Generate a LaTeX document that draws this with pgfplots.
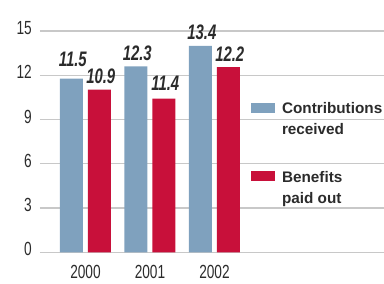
\documentclass[border=0pt]{standalone}
\usepackage{fontspec}
\setmainfont{Liberation Sans}
\usepackage{pgfplots}
\pgfplotsset{compat=1.18}
\newfontfamily\tickfamily{Liberation Sans}[FakeStretch=0.72]
\newfontfamily\lblfamily{Liberation Sans}[FakeStretch=0.71]
\newcommand\tickfont{\tickfamily\fontsize{19}{22}\selectfont}
\newcommand\lblfont{\lblfamily\bfseries\itshape\fontsize{21}{24}\selectfont}
\newcommand\legfont{\bfseries\fontsize{15.3}{21.5}\selectfont}
\definecolor{cblue}{HTML}{7FA1BE}
\definecolor{cred}{HTML}{C8103A}
\definecolor{txt}{HTML}{2B2B2B}
\definecolor{gridc}{HTML}{C8C8C8}
\begin{document}
\begin{tikzpicture}
\path[use as bounding box] (0,0) rectangle (384pt,284pt);
\begin{axis}[
  at={(40pt,31.7pt)}, anchor=south west,
  scale only axis, width=344pt, height=221.3pt,
  xmin=-0.705, xmax=4.628, ymin=0, ymax=15,
  ytick={0,3,...,15}, xtick={0,1,2}, xticklabels={2000,2001,2002},
  axis line style={draw=none}, major tick length=0pt,
  ymajorgrids, major grid style={gridc, line width=1.3pt},
  /pgf/number format/assume math mode=true,
  yticklabel style={font=\tickfont, text=txt, anchor=east, inner sep=0pt, xshift=-8pt, yshift=3pt},
  xticklabel style={font=\tickfont, text=txt, anchor=north, inner sep=0pt, yshift=-13pt},
  clip=false,
  legend cell align=left,
  legend style={at={(0.6134,0.6778)}, anchor=north west, draw=none, fill=none,
    inner sep=0pt, outer sep=0pt, row sep=34.3pt, column sep=0pt,
    nodes={inner sep=0pt, align=left, font=\legfont, text=txt}},
]
\addplot[ybar, bar width=23pt, bar shift=-14pt, fill=cblue, draw=none,
  legend image code/.code={\fill[cblue] (0pt,6.1pt) rectangle (24pt,16.1pt); \path (31pt,0pt);}]
  coordinates {(0,11.77) (1,12.6) (2,14.0)};
\addlegendentry{Contributions\\received}
\addplot[ybar, bar width=23pt, bar shift=14pt, fill=cred, draw=none,
  legend image code/.code={\fill[cred] (0pt,7.7pt) rectangle (24pt,17.7pt); \path (31pt,0pt);}]
  coordinates {(0,11.02) (1,10.41) (2,12.55)};
\addlegendentry{Benefits\\paid out}
\addplot[forget plot, draw=none, mark=none, nodes near coords, point meta=explicit symbolic,
  nodes near coords style={anchor=base, inner sep=0pt, xshift=1.3pt, font=\lblfont, text=txt}]
  coordinates {(-0.217,12.58)[11.5] (0.783,12.99)[12.3] (1.783,14.44)[13.4]};
\addplot[forget plot, draw=none, mark=none, nodes near coords, point meta=explicit symbolic,
  nodes near coords style={anchor=base, inner sep=0pt, xshift=1.3pt, font=\lblfont, text=txt}]
  coordinates {(0.217,11.41)[10.9] (1.217,11.0)[11.4] (2.217,12.92)[12.2]};
\end{axis}
\end{tikzpicture}
\end{document}
